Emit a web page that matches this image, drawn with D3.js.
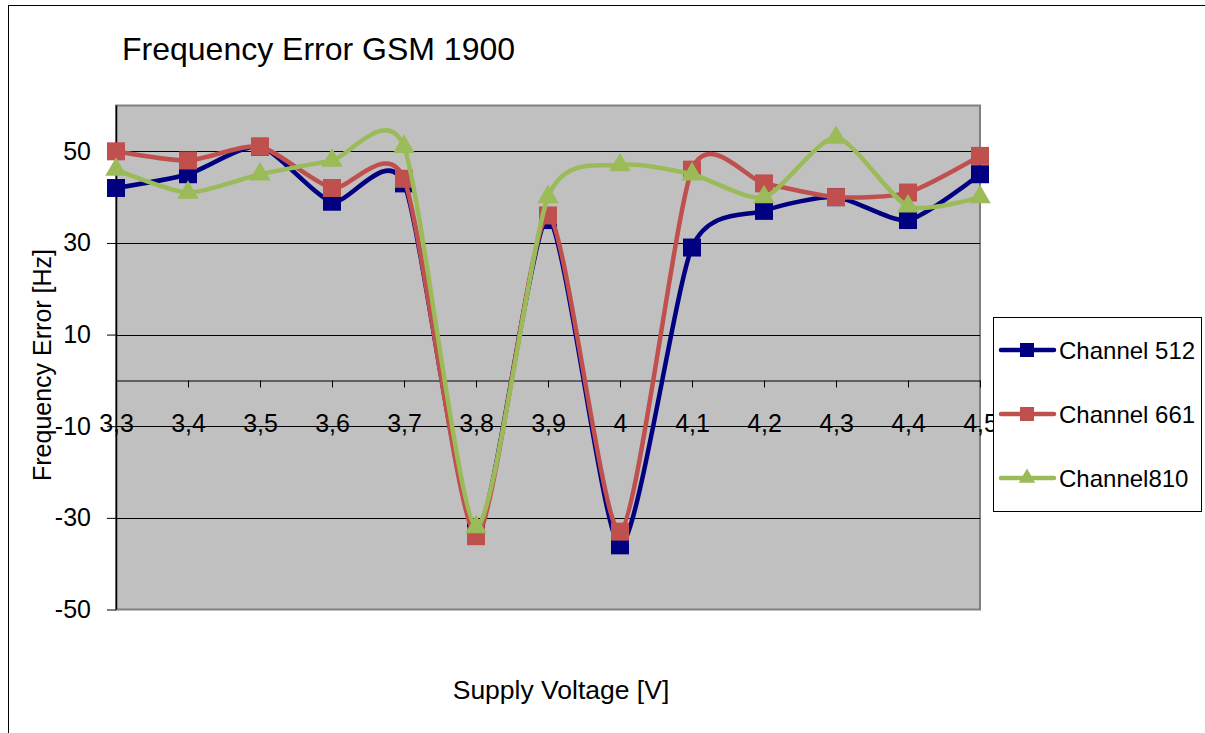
<!DOCTYPE html>
<html>
<head>
<meta charset="utf-8">
<script src="https://cdn.jsdelivr.net/npm/d3@7"></script>
<style>
  body { margin: 0; background: #fff; }
  svg { display: block; font-family: "Liberation Sans", Arial, sans-serif; }
</style>
</head>
<body>
<svg id="chart" width="1205" height="733"></svg>
<script>
// categories (supply voltage)
var voltages = [3.3, 3.4, 3.5, 3.6, 3.7, 3.8, 3.9, 4.0, 4.1, 4.2, 4.3, 4.4, 4.5];
// series values [Hz]
var ch512 = [42, 45, 51, 39, 43, -33, 35, -36, 29, 37, 40, 35, 45];
var ch661 = [50, 48, 51, 42, 44, -34, 36, -33, 46, 43, 40, 41, 49];
var ch810 = [46, 41, 45, 48, 51, -32, 40, 47, 45, 40, 53, 38, 40];
var yTicks = [-50, -30, -10, 10, 30, 50];

var series = [
  { name: "Channel 512", values: ch512, color: "#000080", shape: "square" },
  { name: "Channel 661", values: ch661, color: "#C0504D", shape: "square" },
  { name: "Channel810", values: ch810, color: "#9BBB59", shape: "triangle" }
];

var svg = d3.select("#chart");
var plotLeft = 116, plotRight = 980, plotTop = 105.5, plotBottom = 609.5;

// outer chart frame
svg.append("rect")
  .attr("x", 8.5).attr("y", 5.5)
  .attr("width", 1220).attr("height", 750)
  .attr("fill", "#fff").attr("stroke", "#000").attr("stroke-width", 1);

var x = d3.scalePoint().domain(voltages).range([plotLeft, plotRight]);
var y = d3.scaleLinear().domain([-50, 60]).range([plotBottom, plotTop]);

// plot area
svg.append("rect")
  .attr("x", plotLeft).attr("y", plotTop)
  .attr("width", plotRight - plotLeft).attr("height", plotBottom - plotTop)
  .attr("fill", "#C0C0C0").attr("stroke", "#808080").attr("stroke-width", 2);

// gridlines
svg.append("g").selectAll("line")
  .data(yTicks.filter(d => d > -50))
  .enter().append("line")
  .attr("x1", plotLeft).attr("x2", plotRight)
  .attr("y1", d => Math.round(y(d)) + 0.5).attr("y2", d => Math.round(y(d)) + 0.5)
  .attr("stroke", "#000").attr("stroke-width", 1);

// y axis
var yAxis = svg.append("g")
  .attr("transform", `translate(${plotLeft},0)`)
  .call(d3.axisLeft(y).tickValues(yTicks).tickSize(9).tickPadding(16).tickFormat(d => String(d)));
yAxis.selectAll("text").attr("font-size", 25).attr("fill", "#000").attr("font-family", "Liberation Sans, Arial, sans-serif");
yAxis.selectAll("line").attr("stroke", "#000");
yAxis.select(".domain").attr("d", `M0.5,${plotTop}V${plotBottom}`).attr("stroke", "#000").attr("stroke-width", 1.5);

// x axis at zero
var xAxis = svg.append("g")
  .attr("transform", `translate(0,${Math.round(y(0)) + 0.5})`)
  .call(d3.axisBottom(x).tickSize(7).tickSizeOuter(0).tickPadding(27)
    .tickFormat(d => String(d).replace(".", ",")));
xAxis.selectAll("text").attr("font-size", 25).attr("fill", "#000").attr("font-family", "Liberation Sans, Arial, sans-serif");
xAxis.selectAll("line").attr("stroke", "#000");
xAxis.select(".domain").attr("stroke", "#000");

var line = d3.line()
  .x((d, i) => x(voltages[i]))
  .y(d => y(d))
  .curve(d3.curveCardinal.tension(0.3));

var squareSym = d3.symbol(d3.symbolSquare, 324);
var triSym = d3.symbol(d3.symbolTriangle, 200);

series.forEach(function (s) {
  var g = svg.append("g");
  g.append("path")
    .attr("d", line(s.values))
    .attr("fill", "none")
    .attr("stroke", s.color)
    .attr("stroke-width", 4.5)
    .attr("stroke-linejoin", "round");
  g.selectAll("path.m")
    .data(s.values)
    .enter().append("path")
    .attr("class", "m")
    .attr("transform", (d, i) => `translate(${x(voltages[i])},${y(d)})`)
    .attr("d", s.shape === "square" ? squareSym() : triSym())
    .attr("fill", s.color);
});

// titles
svg.append("text")
  .attr("x", 122).attr("y", 60)
  .attr("font-size", 32)
  .text("Frequency Error GSM 1900");

svg.append("text")
  .attr("x", 561).attr("y", 699)
  .attr("text-anchor", "middle")
  .attr("font-size", 26.5)
  .text("Supply Voltage [V]");

svg.append("text")
  .attr("transform", "translate(51,365) rotate(-90)")
  .attr("text-anchor", "middle")
  .attr("font-size", 25)
  .text("Frequency Error [Hz]");

// legend
var legend = svg.append("g");
legend.append("rect")
  .attr("x", 993.5).attr("y", 317.5)
  .attr("width", 208).attr("height", 194)
  .attr("fill", "#fff").attr("stroke", "#000").attr("stroke-width", 1);

var legendY = d3.scalePoint().domain(series.map(s => s.name)).range([350, 478]);
var legSquare = d3.symbol(d3.symbolSquare, 196);
var legTri = d3.symbol(d3.symbolTriangle, 120);

series.forEach(function (s) {
  var ly = legendY(s.name);
  legend.append("line")
    .attr("x1", 1001).attr("x2", 1054)
    .attr("y1", ly).attr("y2", ly)
    .attr("stroke", s.color).attr("stroke-width", 4.5).attr("stroke-linecap", "round");
  legend.append("path")
    .attr("transform", `translate(1027,${ly})`)
    .attr("d", s.shape === "square" ? legSquare() : legTri())
    .attr("fill", s.color);
  legend.append("text")
    .attr("x", 1059).attr("y", ly)
    .attr("dy", "0.36em")
    .attr("font-size", 24)
    .text(s.name);
});
</script>
</body>
</html>
